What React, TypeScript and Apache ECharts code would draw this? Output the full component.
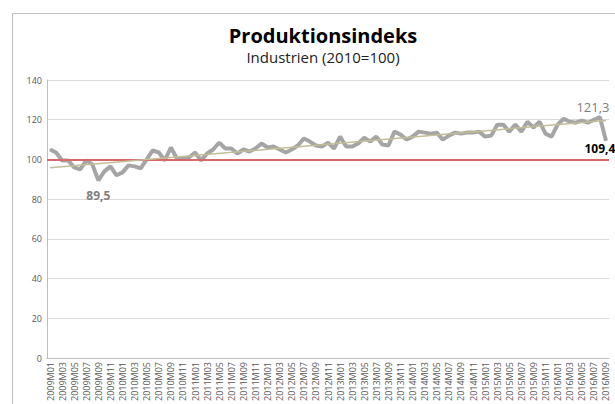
import React, { useEffect, useRef } from "react";
import * as echarts from "echarts";

const startYear = 2009;
const monthCount = 93;
const categories: string[] = [];
for (let i = 0; i < monthCount; i++) {
  const y = startYear + Math.floor(i / 12);
  const m = (i % 12) + 1;
  categories.push(`${y}M${m < 10 ? "0" + m : m}`);
}

const indexValues = [
  105, 103.5, 99.5, 99.5, 96, 95, 99.5, 97.5, 89.5, 94, 96.5, 92,
  93.5, 97, 96.5, 95.5, 100, 104.5, 103.5, 99.5, 106, 100.5, 100.5, 101,
  103.5, 99.5, 103, 105, 108.5, 105.5, 105.5, 103, 105, 104, 105.5, 108,
  106, 106.5, 105, 103.5, 105, 107, 110.5, 109, 107, 106.5, 108.5, 105.5,
  111.5, 106.5, 106.5, 108, 111, 109, 111.5, 107.5, 107, 114, 112.5, 110,
  111.5, 114, 113.5, 113, 113.5, 110, 112, 113.5, 113, 113.5, 113.5, 114,
  111.5, 112, 117.5, 117.5, 114, 117.5, 114, 119, 116, 119, 113, 111.5,
  117.5, 120.5, 119, 118.5, 119.5, 118.5, 120, 121.3, 109.4,
];

const trendStart = 95.8;
const trendEnd = 119.6;
const baseLevel = 100;

const minIndex = 8;
const maxIndex = 91;
const lastIndex = 92;

const fmt = (v: number) => String(v).replace(".", ",");

export default function App() {
  const ref = useRef<HTMLDivElement>(null);
  useEffect(() => {
    if (!ref.current) return;
    const chart = echarts.init(ref.current, undefined, { renderer: "svg" });
    const font = "'Open Sans', 'Noto Sans', sans-serif";
    const data = indexValues.map((v, i) => {
      if (i === minIndex) {
        return {
          value: v,
          label: {
            show: true,
            position: "bottom",
            distance: 9,
            formatter: fmt(v),
            color: "#7f7f7f",
            fontWeight: "bold",
            fontSize: 12,
            fontFamily: font,
          },
        };
      }
      if (i === maxIndex) {
        return {
          value: v,
          label: {
            show: true,
            position: [-23, -16],
            align: "left",
            verticalAlign: "top",
            formatter: fmt(v),
            color: "#7f7f7f",
            fontSize: 13,
            fontFamily: font,
          },
        };
      }
      if (i === lastIndex) {
        return {
          value: v,
          label: {
            show: true,
            position: [-21, 2],
            align: "left",
            verticalAlign: "top",
            formatter: fmt(v),
            color: "#000000",
            fontWeight: "bold",
            fontSize: 12,
            fontFamily: font,
          },
        };
      }
      return v;
    });
    chart.setOption({
      animation: false,
      title: {
        text: "Produktionsindeks",
        subtext: "Industrien (2010=100)",
        left: 318,
        textAlign: "center",
        top: 20,
        itemGap: 4,
        textStyle: {
          fontFamily: font,
          fontSize: 20,
          fontWeight: "bold",
          color: "#000",
        },
        subtextStyle: {
          fontFamily: font,
          fontSize: 15,
          color: "#222",
        },
      },
      graphic: [
        {
          type: "rect",
          shape: { x: 12.5, y: 13.5, width: 700, height: 500 },
          style: { fill: "none", stroke: "#bfbfbf", lineWidth: 1 },
          silent: true,
        },
      ],
      grid: { left: 47, right: 6, top: 80, bottom: 46, outerBoundsMode: "none", containLabel: false },
      xAxis: {
        type: "category",
        data: categories,
        boundaryGap: true,
        axisLine: { show: true, lineStyle: { color: "#bfbfbf" } },
        axisTick: { show: false },
        axisLabel: {
          interval: 1,
          rotate: 90,
          fontSize: 9,
          color: "#595959",
          fontFamily: font,
          margin: 4,
        },
      },
      yAxis: {
        type: "value",
        min: 0,
        max: 140,
        interval: 20,
        axisLine: { show: true, lineStyle: { color: "#bfbfbf" } },
        axisTick: { show: false },
        splitLine: { lineStyle: { color: "#d9d9d9" } },
        axisLabel: {
          fontSize: 9,
          color: "#595959",
          fontFamily: font,
          margin: 5,
        },
      },
      series: [
        {
          type: "line",
          data,
          symbol: "circle",
          symbolSize: 1,
          showSymbol: true,
          itemStyle: { color: "#a5a5a5" },
          lineStyle: { color: "#a5a5a5", width: 4 },
          labelLayout: { hideOverlap: false },
          z: 3,
          markLine: {
            silent: true,
            symbol: "none",
            label: { show: false },
            data: [
              {
                yAxis: baseLevel,
                lineStyle: { color: "#d96868", width: 2, type: "solid" },
              },
              [
                {
                  coord: [categories[0], trendStart],
                  lineStyle: { color: "#c4bd97", width: 1.5, type: "solid" },
                },
                { coord: [categories[monthCount - 1], trendEnd] },
              ],
            ],
          },
        },
      ],
    });
    return () => chart.dispose();
  }, []);
  return (
    <div
      ref={ref}
      style={{ position: "fixed", left: 0, top: 0, width: 615, height: 404, background: "#fff" }}
    />
  );
}
